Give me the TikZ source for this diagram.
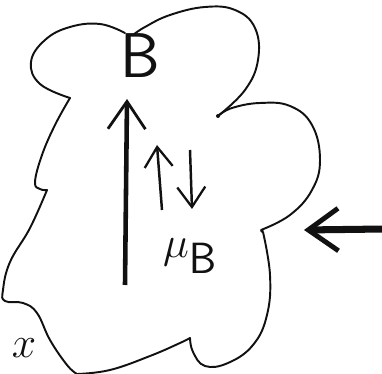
\documentclass[tikz,border=0pt]{standalone}
\usepackage{xcolor}
\definecolor{cInk}{HTML}{111111}
\usepackage{tikz}
\usetikzlibrary{arrows.meta}
\tikzset{
  cloud-line/.style={draw=cInk,line width=1.1pt,line cap=round,line join=round},
  arrow-field/.style={-{Straight Barb[length=5.5mm,width=7.5mm,line width=1.6pt]},
    line width=2.6pt,draw=cInk},
  arrow-spin/.style={-{Straight Barb[length=4mm,width=5.6mm,line width=1.3pt]},
    line width=1.4pt,draw=cInk},
  arrow-push/.style={-{Straight Barb[length=6mm,width=8.5mm,line width=2.8pt]},
    line width=4pt,draw=cInk},
  label-big/.style={font=\fontsize{36}{36}\selectfont\sffamily,text=cInk,inner sep=0pt},
}

\begin{document}
\begin{tikzpicture}[x=0.02cm,y=-0.02cm]
  \useasboundingbox (0,0) rectangle (382,374);
  % outline, lobe by lobe
  \draw[cloud-line] plot[smooth,tension=0.7] coordinates
    {(125,33) (100,24) (70,27) (45,40) (31,62) (40,84) (70,98)};
  \draw[cloud-line] plot[smooth,tension=0.7] coordinates
    {(70,98) (55,125) (42,155) (35,182) (40,189) (47,190)};
  \draw[cloud-line] plot[smooth,tension=0.7] coordinates
    {(47,190) (30,228) (10,262) (3,290) (5,301) (23,303) (37,313)
     (50,340) (67,365) (77,374)};
  \draw[cloud-line] plot[smooth,tension=0.7] coordinates
    {(77,374) (110,370) (150,356) (180,343) (190,338)};
  \draw[cloud-line] plot[smooth,tension=0.7] coordinates
    {(190,338) (193,352) (205,366) (228,363) (253,345) (267,315)
     (270,275) (263,232)};
  \draw[cloud-line] plot[smooth,tension=0.7] coordinates
    {(261,230) (290,215) (312,190) (320,160) (312,125) (290,106)
     (260,103) (232,108) (218,116)};
  \draw[cloud-line] plot[smooth,tension=0.7] coordinates
    {(218,116) (245,90) (258,60) (255,28) (235,10) (205,7) (170,15)
     (145,27) (133,35)};
  \fill[cInk] (218,116) circle (2);
  \fill[cInk] (262,231) circle (1.8);

  % labels
  \node[label-big] (lbl-b) at (140,56) {B};
  \node[label-big,font=\fontsize{34}{34}\selectfont] (lbl-mu) at (190,256)
    {$\mu_{\mathsf{B}}$};
  \node[label-big,font=\fontsize{26}{26}\selectfont] (lbl-x) at (24,348) {$x$};

  % arrows
  \coordinate (b-tail) at (125,285);
  \coordinate (b-head) at (127,99);
  \coordinate (up-tail) at (162,210);
  \coordinate (up-head) at (157,145);
  \coordinate (dn-tail) at (190,150);
  \coordinate (dn-head) at (192,209);
  \coordinate (push-tail) at (384,229);
  \coordinate (push-head) at (304,230);
  \draw[arrow-field] (b-tail) -- (b-head);
  \draw[arrow-spin] (up-tail) -- (up-head);
  \draw[arrow-spin] (dn-tail) -- (dn-head);
  \draw[arrow-push] (push-tail) -- (push-head);
\end{tikzpicture}
\end{document}
